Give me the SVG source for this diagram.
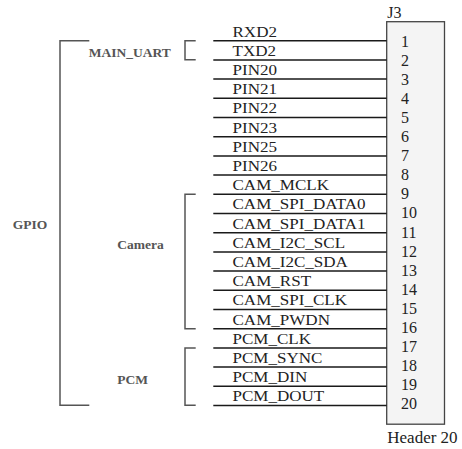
<svg xmlns="http://www.w3.org/2000/svg" width="462" height="449" viewBox="0 0 462 449">
<style>
.wire{stroke:#1a1a1a;stroke-width:1.5;fill:none}
.br{stroke:#555;stroke-width:1.5;fill:none}
.lbl{font-family:"Liberation Serif","Times New Roman",serif;font-size:14.2px;fill:#222}
.num{font-family:"Liberation Serif","Times New Roman",serif;font-size:16px;fill:#222}
.grp{font-family:"Liberation Serif","Times New Roman",serif;font-size:13.5px;font-weight:bold;fill:#555}
.box{fill:#f4f4f4;stroke:#444;stroke-width:1.3}
</style>
<rect width="462" height="449" fill="#ffffff"/>
<g id="J3">
<rect class="box" x="386.7" y="21.7" width="57.8" height="402.5"/>
<text class="num" x="387.3" y="18.3">J3</text>
<text class="num" x="387.3" y="442.7" style="font-size:17px">Header 20</text>
<text class="num" x="401" y="46.7">1</text>
<text class="num" x="401" y="65.8">2</text>
<text class="num" x="401" y="84.9">3</text>
<text class="num" x="401" y="103.9">4</text>
<text class="num" x="401" y="123.0">5</text>
<text class="num" x="401" y="142.1">6</text>
<text class="num" x="401" y="161.2">7</text>
<text class="num" x="401" y="180.3">8</text>
<text class="num" x="401" y="199.3">9</text>
<text class="num" x="401" y="218.4">10</text>
<text class="num" x="401" y="237.5">11</text>
<text class="num" x="401" y="256.6">12</text>
<text class="num" x="401" y="275.7">13</text>
<text class="num" x="401" y="294.7">14</text>
<text class="num" x="401" y="313.8">15</text>
<text class="num" x="401" y="332.9">16</text>
<text class="num" x="401" y="352.0">17</text>
<text class="num" x="401" y="371.1">18</text>
<text class="num" x="401" y="390.1">19</text>
<text class="num" x="401" y="409.2">20</text>
</g>
<g id="connectors">
<path class="wire" d="M213.3 40.7H386.7M213.3 59.9H386.7M213.3 79.1H386.7M213.3 98.3H386.7M213.3 117.5H386.7M213.3 136.7H386.7M213.3 155.9H386.7M213.3 175.1H386.7M213.3 194.3H386.7M213.3 213.5H386.7M213.3 232.7H386.7M213.3 251.9H386.7M213.3 271.1H386.7M213.3 290.3H386.7M213.3 309.5H386.7M213.3 328.7H386.7M213.3 347.9H386.7M213.3 367.1H386.7M213.3 386.3H386.7M213.3 405.5H386.7"/>
</g>
<g id="signals" transform="scale(1.2,1)">
<text class="lbl" x="193.75" y="36.7">RXD2</text>
<text class="lbl" x="193.75" y="55.9">TXD2</text>
<text class="lbl" x="193.75" y="75.1">PIN20</text>
<text class="lbl" x="193.75" y="94.3">PIN21</text>
<text class="lbl" x="193.75" y="113.5">PIN22</text>
<text class="lbl" x="193.75" y="132.7">PIN23</text>
<text class="lbl" x="193.75" y="151.9">PIN25</text>
<text class="lbl" x="193.75" y="171.1">PIN26</text>
<text class="lbl" x="193.75" y="190.3">CAM_MCLK</text>
<text class="lbl" x="193.75" y="209.5">CAM_SPI_DATA0</text>
<text class="lbl" x="193.75" y="228.7">CAM_SPI_DATA1</text>
<text class="lbl" x="193.75" y="247.9">CAM_I2C_SCL</text>
<text class="lbl" x="193.75" y="267.1">CAM_I2C_SDA</text>
<text class="lbl" x="193.75" y="286.3">CAM_RST</text>
<text class="lbl" x="193.75" y="305.5">CAM_SPI_CLK</text>
<text class="lbl" x="193.75" y="324.7">CAM_PWDN</text>
<text class="lbl" x="193.75" y="343.9">PCM_CLK</text>
<text class="lbl" x="193.75" y="363.1">PCM_SYNC</text>
<text class="lbl" x="193.75" y="382.3">PCM_DIN</text>
<text class="lbl" x="193.75" y="401.5">PCM_DOUT</text>
</g>
<g id="GPIO">
<path class="br" d="M89.3 40.7H60V405.3H89.3"/>
<text class="grp" x="12.7" y="229.3">GPIO</text>
</g>
<g id="MAIN_UART">
<path class="br" d="M195.7 40.7H185V59.7H195.7"/>
<text class="grp" x="88.7" y="57">MAIN_UART</text>
</g>
<g id="Camera">
<path class="br" d="M195.7 194.3H185V328.7H195.7"/>
<text class="grp" x="117.3" y="248.8">Camera</text>
</g>
<g id="PCM">
<path class="br" d="M195.7 347.9H185V405.3H195.7"/>
<text class="grp" x="117.3" y="383.6">PCM</text>
</g>
</svg>
